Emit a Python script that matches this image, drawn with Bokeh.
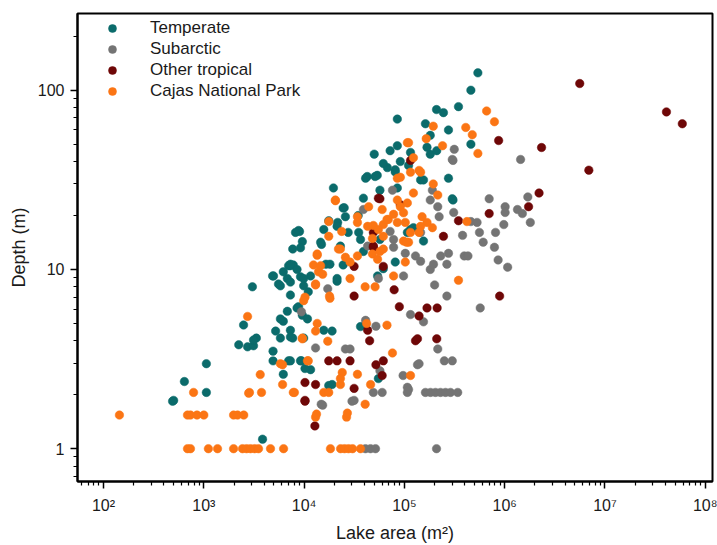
from bokeh.plotting import figure
from bokeh.models import Range1d, FixedTicker, Legend, LegendItem, ColumnDataSource
from bokeh.embed import file_html
from bokeh.resources import INLINE

# ---------------- data (lake area in m^2, depth in m) ----------------
temperate_area = [540000, 460000, 346000, 245000, 209000, 275000, 162000, 181000, 460000, 85000,
                  50000, 85000, 72000, 42600, 53600, 19600, 67600, 81000, 181000, 168000,
                  115000, 61600, 91000, 81000, 145000, 275000, 305000, 155000, 210000, 155000,
                  110000, 115000, 300000, 123000, 39000, 24500, 57000, 41000, 51000, 85000,
                  57000, 35000, 27500, 25100, 17600, 8800, 7700, 9600, 9200, 14900,
                  16500, 7000, 7800, 4950, 5550, 3050, 6800, 9200, 21300, 24500,
                  25800, 21600, 9000, 8200, 14600, 15700, 21300, 34600, 23000, 36500,
                  18100, 7300, 6200, 5800, 11600, 21300, 11000, 61600, 54000, 39000,
                  81000, 107000, 4850, 2230, 2730, 3130, 3340, 2490, 3130, 5200,
                  5800, 7300, 7700, 6200, 6800, 9600, 10800, 8800, 15700, 19000,
                  4900, 4900, 7000, 9200, 11600, 10200, 6200, 17600, 19000, 1060,
                  500, 640, 1060, 7300, 9400, 488, 3850, 55000, 36500, 7300,
                  8500, 7300, 9900, 9900, 7300, 8500, 5800, 7300, 9900]
temperate_depth = [125, 100, 81, 75, 78, 60, 65, 56, 50, 69,
                   44, 49, 46, 33, 33.5, 28.5, 37, 36, 44, 48,
                   45, 39, 40, 35, 31.6, 32.3, 24.4, 14.4, 46, 31.6,
                   38, 16.7, 24.8, 17.1, 25, 22, 27.7, 32.3, 33, 28.5,
                   14.7, 16.1, 16.1, 22.1, 18.7, 16.5, 13.0, 14.3, 13.2, 13.8,
                   10.7, 10.5, 10.6, 9.2, 8.3, 8.0, 8.9, 9.1, 8.6, 10.6,
                   19.7, 18.3, 16.3, 16.1, 14.2, 16.7, 17.4, 20, 13.5, 14.7,
                   10.7, 10.5, 9.7, 8.1, 9.2, 8.9, 7.5, 10.1, 9.2, 12.6,
                   11.0, 16.1, 9.2, 3.8, 3.7, 3.75, 4.14, 4.9, 4.04, 4.53,
                   4.14, 4.58, 4.14, 5.14, 5.84, 5.55, 5.3, 6.2, 4.58, 4.53,
                   3.5, 3.09, 3.09, 3.09, 2.76, 2.8, 2.6, 2.25, 2.28, 2.06,
                   1.86, 2.37, 2.98, 3.09, 3.09, 1.84, 1.13, 2.46, 4.8, 10.7,
                   10.0, 8.5, 8.1, 8.9, 7.2, 6.1, 5.3, 4.2, 4.14]

subarctic_area = [40900, 45900, 51500, 209000, 17200, 14800, 30000, 314000, 305000, 190000,
                  181000, 215000, 222000, 460000, 530000, 380000, 145000, 39000, 76000, 72000,
                  43000, 78000, 55000, 129000, 98000, 78000, 13000, 25800, 28700, 15300,
                  31500, 52000, 57000, 49000, 60000, 41000, 115000, 135000, 97000, 107000,
                  107000, 102000, 145000, 181000, 230000, 275000, 395000, 860000, 1070000, 195000,
                  265000, 200000, 265000, 570000, 155000, 215000, 250000, 300000, 140000, 110000,
                  162000, 182000, 204000, 229000, 257000, 288000, 340000, 300000, 1440000, 700000,
                  1700000, 1010000, 1010000, 1340000, 1500000, 1800000, 980000, 810000, 560000, 610000,
                  790000, 430000, 310000, 9400]
subarctic_depth = [1, 1, 1, 1, 7.8, 1.77, 1.84, 46.8, 40.6, 27.7,
                   24.4, 22.4, 19.7, 18.5, 18.3, 15.5, 16.1, 21.6, 27.7, 16.3,
                   13.5, 13.3, 8.9, 11.9, 9.2, 14.7, 3.65, 3.6, 3.6, 1.75,
                   1.86, 4.82, 2.72, 2.06, 2.06, 5.2, 5.6, 2.94, 2.56, 2.2,
                   2.06, 12.3, 11.1, 10.0, 11.9, 12.3, 11.9, 11.3, 10.3, 10.7,
                   10.7, 8.2, 7.1, 6.1, 5.1, 3.6, 3.09, 3.09, 2.98, 2.14,
                   2.06, 2.06, 2.06, 2.06, 2.06, 2.06, 2.06, 41.1, 41.1, 24.8,
                   25.4, 22.4, 20.8, 21.6, 20.5, 18.3, 17.8, 16.1, 16.1, 14.2,
                   13.3, 11.9, 20.8, 5.8]

tropical_area = [5600000, 41000000, 59000000, 6900000, 2330000, 2200000, 1730000, 870000, 700000, 890000,
                 346000, 245000, 115000, 57000, 49000, 31500, 79000, 31500, 61600, 49000,
                 49000, 55000, 91000, 10200, 10200, 12800, 10200, 13000, 17600, 21300,
                 28700, 31500, 43000, 45000, 61600, 52000, 60000, 89000, 129000, 168000,
                 212000, 140000, 135000, 210000]
tropical_depth = [109, 75.7, 65, 35.8, 47.9, 26.7, 22.4, 52.4, 20.5, 7.1,
                  18.7, 15.3, 40.6, 24.8, 13.5, 7.1, 7.7, 10.4, 10.4, 13.3,
                  16.1, 25, 23, 2.34, 1.86, 1.34, 1.84, 2.28, 3.09, 3.09,
                  3.09, 2.17, 4.58, 4.0, 3.09, 2.94, 2.56, 6.2, 4.0, 6.1,
                  6.1, 5.5, 4.1, 4.1]

cajas_area = [687, 736, 1110, 1370, 1980, 2430, 2670, 2920, 3210, 3510, 4620, 6240, 18300, 23100, 25300, 27700, 30400, 36500,
              144, 687, 736, 855, 1000, 1980, 2170, 2500, 13000, 26500, 40600, 13300, 27000,
              790, 2850, 3760, 6100, 8000, 3650, 5800, 10800, 2730,
              20500, 17600, 13500, 12400, 13900, 13000, 17900, 23000, 23700,
              110000, 91100, 194000, 409000, 475000, 240000, 540000, 107000, 123000, 85000,
              115000, 145000, 194000, 215000, 150000, 168000, 115000, 98000, 145000, 85000,
              91000, 98000, 78000, 69000, 61600, 107000, 85000, 44000, 34000, 20500,
              60000, 49000, 48000, 61600, 110000, 17600, 34000, 22000, 13500, 25800,
              28700, 14600, 13000, 15300, 28700, 10200, 18100, 40600, 51000, 48000,
              54000, 57000, 61600, 34000, 102000, 78000, 55000, 43000, 67000, 102000,
              123000, 13500, 13000, 17200, 9600, 11000, 6100, 2800, 7800, 15700,
              17600, 23000, 24000, 34000, 23000, 67000, 76000, 46000, 42000, 115000,
              346000, 660000, 790000, 165000, 140000, 190000, 140000, 105000, 420000, 9900, 9600]
cajas_depth = [1, 1, 1, 1, 1, 1, 1, 1, 1, 1, 1, 1, 1, 1, 1, 1, 1, 1,
               1.54, 1.54, 1.54, 1.54, 1.54, 1.54, 1.54, 1.54, 1.5, 1.5, 1.77, 1.56, 1.58,
               2.06, 2.06, 2.06, 2.28, 2.06, 2.59, 2.98, 3.09, 5.47,
               24.2, 15.3, 12.0, 10.6, 9.7, 8.3, 7.1, 13.0, 16.3,
               51, 32.7, 63, 62, 56.5, 49, 44.4, 51, 42, 32.3,
               34.9, 34.9, 30, 26, 19.7, 18.3, 16.1, 14.4, 17.4, 24.4,
               22.4, 20.7, 20.3, 19.0, 17.8, 23.5, 18.3, 22.4, 19.7, 24.4,
               21.6, 17.6, 14.9, 15.3, 14.2, 18.5, 18.3, 13.0, 12.2, 11.7,
               11.0, 10.5, 8.2, 9.4, 8.9, 7.0, 6.9, 8.0, 8.0, 12.2,
               11.4, 12.6, 13.0, 11.9, 11.0, 9.2, 16.7, 17.4, 19.0, 18.3,
               26.7, 5.0, 4.53, 3.98, 4.1, 3.09, 2.94, 2.04, 2.06, 2.06,
               2.06, 2.28, 2.66, 2.6, 2.46, 4.89, 3.42, 2.28, 5.0, 2.56,
               8.7, 76.6, 66.7, 53.7, 35.7, 17.1, 16.1, 14.2, 18.5, 6.7, 4.14]

series_names = ["Temperate", "Subarctic", "Other tropical", "Cajas National Park"]
series_colors = ["#0b6b6b", "#747474", "#6e0707", "#fb7514"]

x_ticks = [100, 1000, 10000, 100000, 1000000, 10000000, 100000000]
x_tick_labels = ["10\u00b2", "10\u00b3", "10\u2074", "10\u2075", "10\u2076", "10\u2077", "10\u2078"]
y_ticks = [1, 10, 100]
y_tick_labels = ["1", "10", "100"]

FONT = "Liberation Sans"

p = figure(width=717, height=545, x_axis_type="log", y_axis_type="log",
           x_range=Range1d(55, 1.18e8), y_range=Range1d(0.656, 268),
           output_backend="svg", toolbar_location=None,
           min_border_left=77, min_border_right=5, min_border_top=13, min_border_bottom=62)
p.background_fill_color = "white"
p.border_fill_color = "white"
p.grid.visible = False
p.outline_line_color = "black"
p.outline_line_width = 2
p.outline_line_alpha = 1

data = [(temperate_area, temperate_depth), (subarctic_area, subarctic_depth),
        (tropical_area, tropical_depth), (cajas_area, cajas_depth)]
renderers = []
for (a, d), c in zip(data, series_colors):
    src = ColumnDataSource(dict(x=a, y=d))
    r = p.scatter("x", "y", source=src, size=8.5, marker="circle",
                  fill_color=c, line_color=c, line_width=0.5)
    renderers.append(r)

x_minor = [m * 10 ** k for k in range(1, 8) for m in range(2, 10)]
y_minor = [0.7, 0.8, 0.9] + [m * 10 ** k for k in range(0, 2) for m in range(2, 10)] + [200]
p.xaxis.ticker = FixedTicker(ticks=x_ticks, minor_ticks=x_minor)
p.yaxis.ticker = FixedTicker(ticks=y_ticks, minor_ticks=y_minor)
p.xaxis.major_label_overrides = {t: l for t, l in zip(x_ticks, x_tick_labels)}
p.yaxis.major_label_overrides = {t: l for t, l in zip(y_ticks, y_tick_labels)}

p.xaxis.axis_label = "Lake area (m\u00b2)"
p.yaxis.axis_label = "Depth (m)"
for ax in (p.xaxis[0], p.yaxis[0]):
    ax.axis_line_color = "black"
    ax.axis_line_width = 2
    ax.major_tick_line_color = "black"
    ax.minor_tick_line_color = "black"
    ax.major_tick_line_width = 1.5
    ax.minor_tick_line_width = 1.2
    ax.major_tick_in = 0
    ax.major_tick_out = 7
    ax.minor_tick_in = 0
    ax.minor_tick_out = 4
    ax.major_label_text_font = FONT
    ax.major_label_text_font_size = "16px"
    ax.major_label_text_color = "#1a1a1a"
    ax.axis_label_text_font = FONT
    ax.axis_label_text_font_size = "18px"
    ax.axis_label_text_font_style = "normal"
    ax.axis_label_text_color = "#1a1a1a"
p.xaxis.major_label_standoff = 8
p.xaxis.axis_label_standoff = 6
p.yaxis.major_label_standoff = 6
p.yaxis.axis_label_standoff = 6

legend = Legend(items=[LegendItem(label=n, renderers=[r]) for n, r in zip(series_names, renderers)],
                location=(25, 380), padding=0, margin=0, spacing=1,
                glyph_width=20, glyph_height=20, label_height=20, label_standoff=28,
                border_line_color=None, background_fill_alpha=0,
                label_text_font=FONT, label_text_font_size="17px", label_text_color="#1a1a1a")
p.add_layout(legend)

open("out.html", "w").write(file_html(p, INLINE))
